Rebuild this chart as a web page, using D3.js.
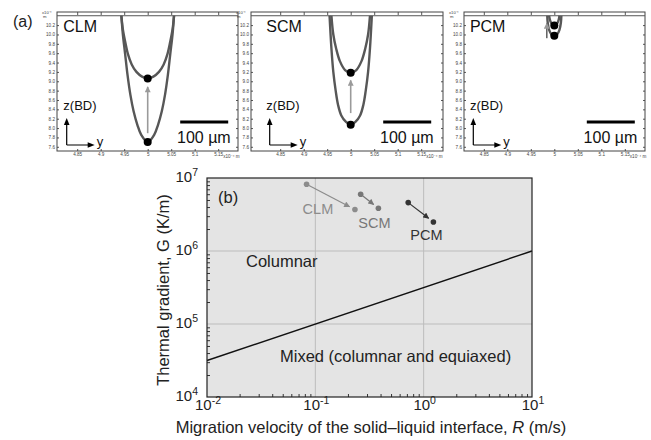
<!DOCTYPE html>
<html>
<head>
<meta charset="utf-8">
<script src="https://cdn.jsdelivr.net/npm/d3@7"></script>
<style>
  body { margin: 0; background: #fff; }
</style>
</head>
<body>
<script>
// ---- panel (a) data (units x10^-4 m) ----
var panelNames = ["CLM", "SCM", "PCM"];
var xTicksA = [4.85, 4.9, 4.95, 5, 5.05, 5.1, 5.15];
var zTicksA = [7.6, 7.8, 8, 8.2, 8.4, 8.6, 8.8, 9, 9.2, 9.4, 9.6, 9.8, 10, 10.2];
var surfaceZ = 10.40;
// melt pool boundaries as [half width, z], from bottom to the surface
var outerCurves = [
  [[0, 7.70], [0.014, 7.86], [0.022, 8.07], [0.030, 8.36], [0.037, 8.72], [0.043, 9.14], [0.048, 9.58], [0.053, 10.02], [0.056, 10.40]],
  [[0, 8.07], [0.010, 8.13], [0.020, 8.27], [0.027, 8.50], [0.032, 8.80], [0.037, 9.20], [0.041, 9.70], [0.045, 10.40]],
  [[0, 9.97], [0.006, 10.00], [0.011, 10.10], [0.014, 10.25], [0.015, 10.40]]
];
var innerCurves = [
  [[0, 9.06], [0.012, 9.10], [0.024, 9.20], [0.034, 9.36], [0.042, 9.58], [0.048, 9.85], [0.053, 10.12], [0.056, 10.40]],
  [[0, 9.18], [0.012, 9.24], [0.023, 9.43], [0.031, 9.70], [0.037, 10.00], [0.041, 10.40]],
  [[0, 10.19], [0.005, 10.22], [0.009, 10.30], [0.011, 10.40]]
];
var arrowY = [5, 5, 4.984];
var arrowFrom = [7.89, 8.32, 9.92];
var arrowTo = [8.88, 9.02, 10.24];

// ---- panel (b) data ----
var seriesNames = ["CLM", "SCM", "PCM"];
var startR = [0.083, 0.262, 0.72];
var startG = [8.2e6, 6.0e6, 4.6e6];
var endR = [0.232, 0.382, 1.23];
var endG = [3.7e6, 3.85e6, 2.5e6];
var boundaryR = [0.01, 10];
var boundaryG = [3.16e4, 1e6];
var xMajor = [1e-2, 1e-1, 1e0, 1e1];
var xExp = ["-2", "-1", "0", "1"];
var yMajor = [1e4, 1e5, 1e6, 1e7];
var yExp = ["4", "5", "6", "7"];

var svgWidth = 651;
var svgHeight = 440;
var font = "'Liberation Sans', Arial, sans-serif";

var svg = d3.select("body")
  .append("svg")
  .attr("width", svgWidth)
  .attr("height", svgHeight)
  .style("font-family", font);

var defs = svg.append("defs");
function makeMarker(id, color, w, h) {
  defs.append("marker")
    .attr("id", id)
    .attr("viewBox", "0 0 10 10")
    .attr("refX", 9)
    .attr("refY", 5)
    .attr("markerUnits", "userSpaceOnUse")
    .attr("markerWidth", w)
    .attr("markerHeight", h)
    .attr("orient", "auto")
    .append("path")
    .attr("d", "M0,0L10,5L0,10z")
    .attr("fill", color);
}

// ================= panel (a) =================
svg.append("text").attr("x", 13).attr("y", 27)
  .attr("font-size", 16).attr("fill", "#222").text("(a)");

var frames = [[57, 238], [251, 443], [464, 645]];
var centers = [147.7, 350.7, 554.3];
var aTop = 12, aBottom = 151;

var z = d3.scaleLinear().domain([7.51, 10.48]).range([aBottom, aTop]);
makeMarker("arrA", "#9a9a9a", 7, 6);

panelNames.forEach(function(name, i) {
  var f = frames[i], c = centers[i];
  var x = d3.scaleLinear()
    .domain([5 - (c - f[0]) / 470, 5 + (f[1] - c) / 470])
    .range([f[0], f[1]]);
  var g = svg.append("g");

  var left = d3.axisLeft(z).tickValues(zTicksA).tickSize(-2).tickPadding(2);
  var gl = g.append("g").attr("transform", `translate(${f[0]},0)`).call(left);
  var right = d3.axisRight(z).tickValues(zTicksA).tickSize(-2).tickFormat("");
  var gr = g.append("g").attr("transform", `translate(${f[1]},0)`).call(right);
  var bottom = d3.axisBottom(x).tickValues(xTicksA).tickSize(-2).tickPadding(2)
    .tickFormat(function(d) { return String(d); });
  var gb = g.append("g").attr("transform", `translate(0,${aBottom})`).call(bottom);
  var top = d3.axisBottom(x).tickValues(xTicksA).tickSize(3).tickFormat("");
  var gt = g.append("g").attr("transform", `translate(0,${aTop})`).call(top);
  [gl, gr, gb, gt].forEach(function(a) {
    a.select(".domain").remove();
    a.selectAll("line").attr("stroke", "#555");
    a.selectAll("text").attr("font-size", 4.6).attr("fill", "#444").attr("font-family", font);
  });

  // tiny unit labels
  g.append("text").attr("x", f[0] - 15).attr("y", aTop + 2).attr("font-size", 4.2).attr("fill", "#444").text("x10⁻⁴");
  g.append("text").attr("x", f[0] - 14).attr("y", aTop + 6).attr("font-size", 4.2).attr("fill", "#444").text("m");
  g.append("text").attr("x", x(5.15) + 5).attr("y", aBottom + 7).attr("font-size", 4.6).attr("fill", "#444").text("x10⁻⁴ m");

  // frame + surface line
  g.append("rect").attr("x", f[0]).attr("y", aTop).attr("width", f[1] - f[0]).attr("height", aBottom - aTop)
    .attr("fill", "none").attr("stroke", "#444").attr("stroke-width", 1);
  g.append("line").attr("x1", f[0]).attr("x2", f[1]).attr("y1", z(surfaceZ)).attr("y2", z(surfaceZ))
    .attr("stroke", "#555").attr("stroke-width", 1);

  // melt pool curves, mirrored about y = 5
  var line = d3.line().x(d => x(5 + d[0])).y(d => z(d[1])).curve(d3.curveCatmullRom);
  [outerCurves[i], innerCurves[i]].forEach(function(pts) {
    var full = pts.slice(1).reverse().map(d => [-d[0], d[1]]).concat(pts);
    g.append("path").attr("d", line(full))
      .attr("fill", "none").attr("stroke", "#575757").attr("stroke-width", 2.4);
  });

  g.append("line")
    .attr("x1", x(arrowY[i])).attr("x2", x(arrowY[i]))
    .attr("y1", z(arrowFrom[i])).attr("y2", z(arrowTo[i]))
    .attr("stroke", i == 2 ? "#666" : "#9a9a9a").attr("stroke-width", 1.6)
    .attr("marker-end", "url(#arrA)");

  [outerCurves[i][0][1], innerCurves[i][0][1]].forEach(function(v) {
    g.append("circle").attr("cx", x(5)).attr("cy", z(v)).attr("r", 4).attr("fill", "#000");
  });

  // labels
  g.append("text").attr("x", c - 84.4).attr("y", 31.5).attr("font-size", 16).attr("fill", "#111").text(name);
  g.append("text").attr("x", c - 84.4).attr("y", 110).attr("font-size", 13).attr("fill", "#111").text("z(BD)");
  var ox = c - 81, oy = 145;
  g.append("path").attr("d", `M${ox},${oy}L${ox},${oy - 24}M${ox},${oy}L${ox + 24},${oy}`)
    .attr("stroke", "#000").attr("stroke-width", 1.2).attr("fill", "none");
  g.append("path").attr("d", `M${ox - 2.8},${oy - 20}L${ox},${oy - 27}L${ox + 2.8},${oy - 20}z`).attr("fill", "#000");
  g.append("path").attr("d", `M${ox + 21},${oy - 2.8}L${ox + 28},${oy}L${ox + 21},${oy + 2.8}z`).attr("fill", "#000");
  g.append("text").attr("x", ox + 30).attr("y", oy + 1).attr("font-size", 13).attr("fill", "#111").text("y");

  // scale bar
  g.append("rect").attr("x", c + 80.5 - 48).attr("y", 120.5).attr("width", 48).attr("height", 3).attr("fill", "#000");
  g.append("text").attr("x", c + 83).attr("y", 142.5).attr("text-anchor", "end")
    .attr("font-size", 16).attr("fill", "#111").text("100 µm");
});

// ================= panel (b) =================
var bx = d3.scaleLog().domain([1e-2, 1e1]).range([207, 532]);
var by = d3.scaleLog().domain([1e4, 1e7]).range([397, 178]);

var chartGroup = svg.append("g");
chartGroup.append("rect")
  .attr("x", 207).attr("y", 178).attr("width", 325).attr("height", 219)
  .attr("fill", "#e4e4e4");

// grid
chartGroup.selectAll(".gx").data(xMajor.slice(1, 3)).enter().append("line")
  .attr("x1", d => bx(d)).attr("x2", d => bx(d)).attr("y1", 178).attr("y2", 397)
  .attr("stroke", "#bcbcbc").attr("stroke-width", 1);
chartGroup.selectAll(".gy").data(yMajor.slice(1, 3)).enter().append("line")
  .attr("y1", d => by(d)).attr("y2", d => by(d)).attr("x1", 207).attr("x2", 532)
  .attr("stroke", "#bcbcbc").attr("stroke-width", 1);

// minor ticks, pointing inward
var xMinor = bx.ticks().filter(d => xMajor.indexOf(d) < 0);
var yMinor = by.ticks().filter(d => yMajor.indexOf(d) < 0);
var bAxis = chartGroup.append("g").attr("transform", "translate(0,397)")
  .call(d3.axisBottom(bx).tickValues(xMinor).tickSize(-3).tickFormat(""));
var lAxis = chartGroup.append("g").attr("transform", "translate(207,0)")
  .call(d3.axisLeft(by).tickValues(yMinor).tickSize(-3).tickFormat(""));
[bAxis, lAxis].forEach(function(a) {
  a.select(".domain").remove();
  a.selectAll("line").attr("stroke", "#333");
});

// boundary line
chartGroup.append("path")
  .attr("d", d3.line().x((d, i) => bx(boundaryR[i])).y(d => by(d))(boundaryG))
  .attr("stroke", "#111").attr("stroke-width", 1.4).attr("fill", "none");

chartGroup.append("rect")
  .attr("x", 207).attr("y", 178).attr("width", 325).attr("height", 219)
  .attr("fill", "none").attr("stroke", "#222").attr("stroke-width", 1.2);

// tick labels with superscripts
xMajor.forEach(function(d, i) {
  var t = chartGroup.append("text").attr("x", bx(d) + 1).attr("y", 410)
    .attr("text-anchor", "middle").attr("font-size", 15).attr("fill", "#222");
  t.append("tspan").text("10");
  t.append("tspan").attr("dy", -6).attr("font-size", 10.5).text(xExp[i]);
});
yMajor.forEach(function(d, i) {
  var t = chartGroup.append("text").attr("x", 198).attr("y", by(d) + 4)
    .attr("text-anchor", "end").attr("font-size", 15).attr("fill", "#222");
  t.append("tspan").text("10");
  t.append("tspan").attr("dy", -6).attr("font-size", 10.5).text(yExp[i]);
});

// axis titles
chartGroup.append("text")
  .attr("transform", "translate(169,290) rotate(-90)")
  .attr("text-anchor", "middle").attr("font-size", 16.5).attr("fill", "#222")
  .text("Thermal gradient, G (K/m)");
var xt = chartGroup.append("text")
  .attr("x", 371).attr("y", 433).attr("text-anchor", "middle")
  .attr("font-size", 16.5).attr("fill", "#222");
xt.append("tspan").text("Migration velocity of the solid\u2013liquid interface, ");
xt.append("tspan").attr("font-style", "italic").text("R");
xt.append("tspan").text(" (m/s)");

// region labels
chartGroup.append("text").attr("x", 218).attr("y", 203).attr("font-size", 16.5).attr("fill", "#222").text("(b)");
chartGroup.append("text").attr("x", 246).attr("y", 267).attr("font-size", 16.5).attr("fill", "#222").text("Columnar");
chartGroup.append("text").attr("x", 280).attr("y", 362).attr("font-size", 16.5).attr("fill", "#222")
  .text("Mixed (columnar and equiaxed)");

// migration arrows
var seriesColors = ["#8c8c8c", "#777777", "#333333"];
var labelDx = [-37, -4, -7];
var labelDy = [4, 20, 18];
seriesNames.forEach(function(name, i) {
  makeMarker("arrB" + i, seriesColors[i], 7, 6);
  var x1 = bx(startR[i]), y1 = by(startG[i]);
  var x2 = bx(endR[i]), y2 = by(endG[i]);
  var len = Math.hypot(x2 - x1, y2 - y1);
  var k = (len - 6) / len;
  chartGroup.append("line")
    .attr("x1", x1).attr("y1", y1)
    .attr("x2", x1 + (x2 - x1) * k).attr("y2", y1 + (y2 - y1) * k)
    .attr("stroke", seriesColors[i]).attr("stroke-width", 1.2)
    .attr("marker-end", "url(#arrB" + i + ")");
  chartGroup.append("circle").attr("cx", x1).attr("cy", y1).attr("r", 2.8).attr("fill", seriesColors[i]);
  chartGroup.append("circle").attr("cx", x2).attr("cy", y2).attr("r", 2.8).attr("fill", seriesColors[i]);
  chartGroup.append("text")
    .attr("x", x2 + labelDx[i]).attr("y", y2 + labelDy[i])
    .attr("text-anchor", "middle").attr("font-size", 14.5)
    .attr("fill", seriesColors[i]).text(name);
});
</script>
</body>
</html>
